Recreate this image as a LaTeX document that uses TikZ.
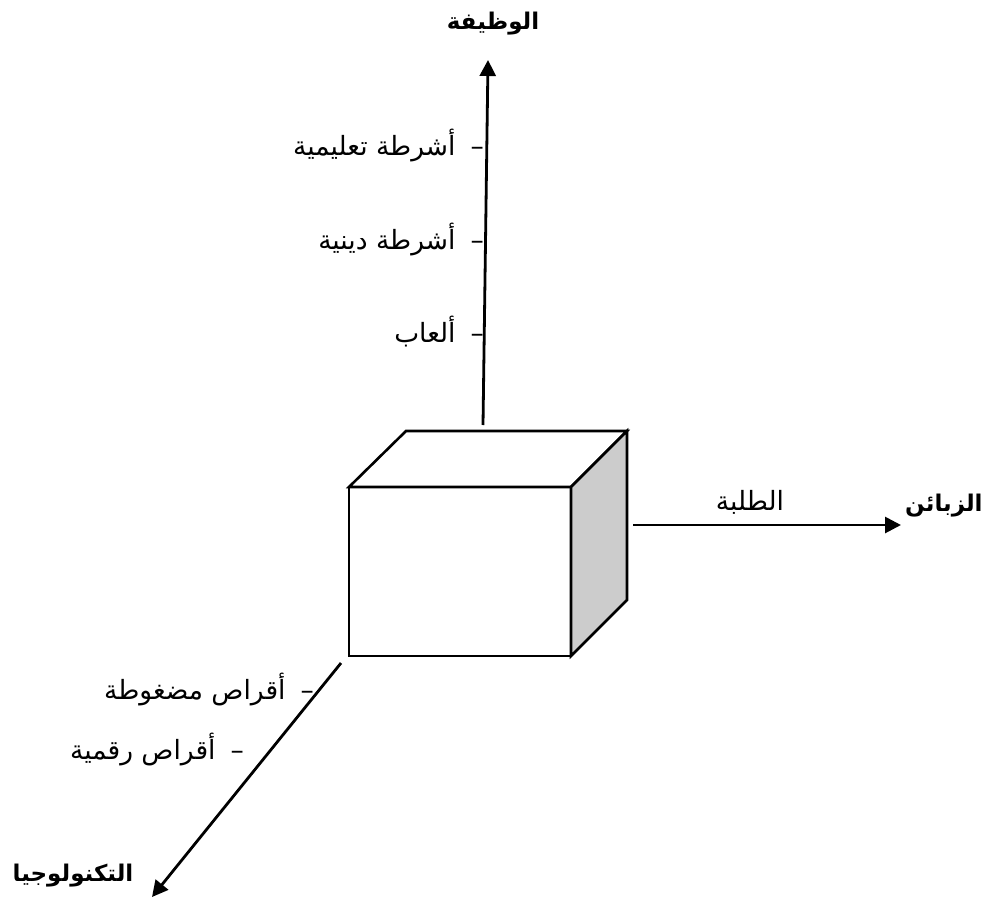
\documentclass[tikz,border=0pt]{standalone}
\usepackage{fontspec}
\newfontfamily\arabicfont[Script=Arabic]{DejaVu Sans}
\TeXXeTstate=1
\usetikzlibrary{arrows.meta}
\newcommand\dsh{–\hspace{15pt}}
\tikzset{
  edge/.style={line width=2.6pt, line join=miter},
  axis/.style={line width=2.8pt, -{Triangle[length=16pt,width=16pt]}},
  lbl/.style={font=\arabicfont\fontsize{26.5}{30}\selectfont, inner sep=0pt},
  title/.style={font=\arabicfont\bfseries\fontsize{23}{27}\selectfont, inner sep=0pt}
}
\begin{document}
\begin{tikzpicture}[x=1pt,y=-1pt]
\useasboundingbox (0,0) rectangle (985,905);
% cube corners
\coordinate (ftl) at (349,487);
\coordinate (ftr) at (571,487);
\coordinate (fbr) at (571,656);
\coordinate (fbl) at (349,656);
\coordinate (btl) at (406,431);
\coordinate (btr) at (627,431);
\coordinate (bbr) at (627,600);
% faces
\draw[edge, fill=white] (ftl) rectangle (fbr);
\draw[edge, fill=white] (ftl) -- (btl) -- (btr) -- (ftr) -- cycle;
\draw[edge, fill=black!20] (ftr) -- (btr) -- (bbr) -- (fbr) -- cycle;
% axis ends
\coordinate (vs) at (483,425);
\coordinate (ve) at (488,60);
\coordinate (hs) at (633,525);
\coordinate (he) at (901,525);
\coordinate (ds) at (341,663);
\coordinate (de) at (152,897);
\draw[axis] (vs) -- (ve);
\draw[axis] (hs) -- (he);
\draw[axis] (ds) -- (de);
% titles
\node[title] (tfunc) at (493,24) {\beginR الوظيفة\endR};
\node[title, anchor=west] (tcust) at (905,506) {\beginR الزبائن\endR};
\node[title] (ttech) at (73,876) {\beginR التكنولوجيا\endR};
% labels
\node[lbl, anchor=east] (l1) at (484,146) {\beginR\dsh أشرطة تعليمية\endR};
\node[lbl, anchor=east] (l2) at (484,239) {\beginR\dsh أشرطة دينية\endR};
\node[lbl, anchor=east] (l3) at (484,332) {\beginR\dsh ألعاب\endR};
\node[lbl] (l4) at (750,502) {\beginR الطلبة\endR};
\node[lbl, anchor=east] (l5) at (314,689) {\beginR\dsh أقراص مضغوطة\endR};
\node[lbl, anchor=east] (l6) at (244,749) {\beginR\dsh أقراص رقمية\endR};
\end{tikzpicture}
\end{document}
